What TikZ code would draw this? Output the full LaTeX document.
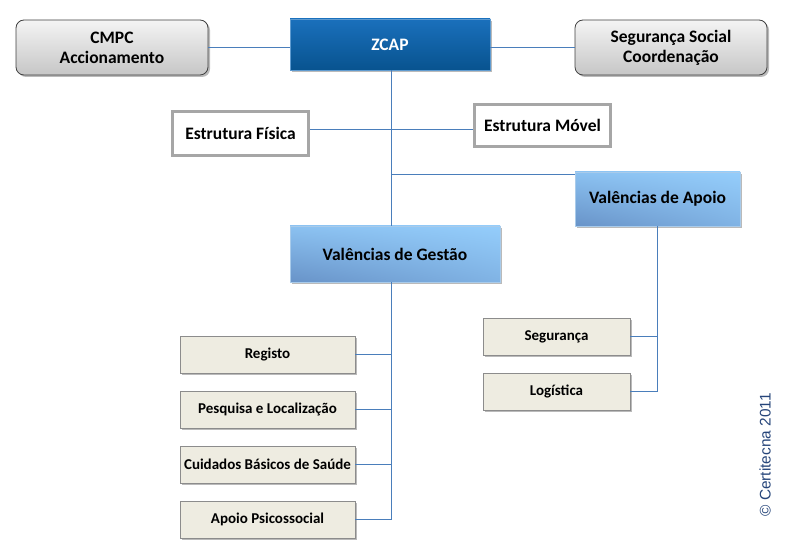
\documentclass[tikz,border=0pt]{standalone}
\usepackage{fontspec}
\setmainfont{Carlito}
\newfontfamily\arialf{Liberation Sans}
\usetikzlibrary{shadows,calc,shadings}
\definecolor{conn}{HTML}{4A7EBB}
\definecolor{grtop}{HTML}{F4F4F4}
\definecolor{grbot}{HTML}{C6C6C6}
\definecolor{grbd}{HTML}{404040}
\definecolor{zctop}{HTML}{1A70BC}
\definecolor{zcbot}{HTML}{08538F}
\definecolor{vlur}{HTML}{94CDFB}
\definecolor{vlll}{HTML}{6893C8}
\definecolor{vlbd}{HTML}{A9CBEA}
\definecolor{beige}{HTML}{EEECE1}
\definecolor{beigebd}{HTML}{8C8C8C}
\definecolor{frame}{HTML}{A6A6A6}
\definecolor{copyc}{HTML}{26457A}
\tikzset{
  shd/.style={drop shadow={shadow xshift=2pt,shadow yshift=-2pt,opacity=0.45,fill=black!60}},
  bigtxt/.style={font=\fontsize{17.5}{20}\selectfont\bfseries, align=center, inner sep=0pt},
  smalltxt/.style={font=\fontsize{15}{17}\selectfont\bfseries, align=center, inner sep=0pt},
  graybox/.style={bigtxt, rounded corners=8pt, draw=grbd, line width=0.8pt, top color=grtop, bottom color=grbot, shd, minimum width=192pt, minimum height=55pt},
  zcbox/.style={bigtxt, text=white, draw=zctop!70!white, line width=0.6pt, top color=zctop, bottom color=zcbot, shd, minimum width=200pt, minimum height=51pt},
  framebox/.style={bigtxt, draw=frame, line width=3pt, fill=white, minimum width=136pt, drop shadow={shadow xshift=1.5pt,shadow yshift=-1.5pt,opacity=0.25,fill=black!50}},
  valbox/.style={bigtxt, draw=vlbd, line width=0.6pt, upper right=vlur, upper left=vlur!80!vlll, lower right=vlur!55!vlll, lower left=vlll, shd},
  leafbox/.style={smalltxt, draw=beigebd, line width=0.8pt, fill=beige, shd, minimum height=37pt},
  link/.style={draw=conn, line width=0.8pt}
}
\begin{document}
\begin{tikzpicture}[x=1pt,y=-1pt]
\useasboundingbox (0,0) rectangle (789,553);
% nodes
\node[graybox] (cmpc) at (112,47.5) {CMPC\\Accionamento};
\node[zcbox] (zcap) at (390,44.5) {ZCAP};
\node[graybox] (segsoc) at (671,47.5) {Segurança Social\\Coordenação};
\node[framebox, minimum height=44pt] (fisica) at (240.5,133.5) {Estrutura Física};
\node[framebox, minimum height=42pt] (movel) at (542.5,125.5) {Estrutura Móvel};
\node[valbox, minimum width=165pt, minimum height=54pt] (apoio) at (657.5,199) {Valências de Apoio};
\node[valbox, minimum width=210pt, minimum height=56pt] (gestao) at (395,254) {Valências de Gestão};
\node[leafbox, minimum width=175pt] (registo) at (267.5,354.5) {Registo};
\node[leafbox, minimum width=175pt] (pesquisa) at (267.5,409.5) {Pesquisa e Localização};
\node[leafbox, minimum width=175pt] (cuidados) at (267.5,464.5) {Cuidados Básicos de Saúde};
\node[leafbox, minimum width=175pt] (psico) at (267.5,519.5) {Apoio Psicossocial};
\node[leafbox, minimum width=147pt] (seguranca) at (556.5,336.5) {Segurança};
\node[leafbox, minimum width=147pt] (logistica) at (556.5,391.5) {Logística};
\node[font=\arialf\fontsize{15.4}{17}\selectfont, text=copyc, rotate=90, inner sep=0pt] (copy) at (765,455) {© Certitecna 2011};
% connectors
\draw[link] (cmpc.east) -- (cmpc.east -| zcap.west);
\draw[link] (segsoc.west) -- (segsoc.west -| zcap.east);
\coordinate (trunk) at ([xshift=1pt]zcap.south);
\draw[link] (trunk) -- (trunk |- gestao.north);
\coordinate (fm) at ([yshift=4pt]fisica.east);
\draw[link] (fm) -- (fm -| movel.west);
\coordinate (ap) at ([yshift=-3pt]apoio.north west);
\draw[link] (ap -| trunk) -- (ap);
\draw[link] (trunk |- gestao.south) -- (trunk |- psico.east);
\foreach \n in {registo,pesquisa,cuidados,psico}{
  \draw[link] (\n.east) -- (\n.east -| trunk);
}
\draw[link] (apoio.south) -- (apoio.south |- logistica.east);
\foreach \n in {seguranca,logistica}{
  \draw[link] (\n.east) -- (\n.east -| apoio.south);
}
\end{tikzpicture}
\end{document}
